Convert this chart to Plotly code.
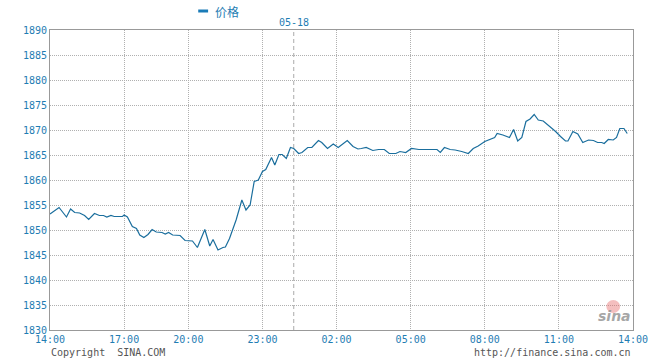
import plotly.graph_objects as go

# x: session slot (time-axis units), y: price
slots = [0, 12, 22, 40, 50, 60, 72, 84, 94, 108, 120, 130, 138, 148, 156, 176, 180, 188,
         200, 210, 218, 228, 238, 248, 258, 272, 280, 288, 298, 316, 328, 346, 358, 376,
         388, 396, 408, 420, 426, 436, 452, 466, 476, 486, 496, 506, 516, 524, 538, 546,
         556, 564, 574, 584, 592, 604, 612, 626, 636, 652, 660, 674, 688, 700, 722, 736,
         748, 756, 768, 784, 798, 812, 824, 840, 850, 864, 878, 896, 940, 948, 958, 972,
         984, 1000, 1016, 1028, 1040, 1056, 1072, 1080, 1086, 1100, 1116, 1126, 1136,
         1146, 1156, 1166, 1176, 1186, 1198, 1212, 1228, 1240, 1252, 1258, 1270, 1282,
         1294, 1308, 1320, 1330, 1340, 1346, 1356, 1368, 1376, 1384, 1394, 1402]
prices = [1853.2, 1853.9, 1854.5, 1852.6, 1854.2, 1853.5, 1853.4, 1852.9, 1852.1, 1853.3,
          1852.9, 1852.9, 1852.6, 1852.9, 1852.7, 1852.7, 1853.0, 1852.6, 1850.7, 1850.3,
          1849.0, 1848.5, 1849.1, 1850.1, 1849.6, 1849.5, 1849.2, 1849.5, 1849.0, 1848.9,
          1847.9, 1847.8, 1846.5, 1850.1, 1846.8, 1848.1, 1846.0, 1846.5, 1846.6, 1848.3,
          1852.0, 1856.0, 1854.0, 1855.0, 1859.7, 1860.0, 1861.7, 1862.1, 1864.5, 1863.0,
          1865.1, 1865.1, 1864.3, 1866.5, 1866.3, 1865.3, 1865.5, 1866.5, 1866.5, 1867.9,
          1867.5, 1866.3, 1867.2, 1866.5, 1867.9, 1866.7, 1866.2, 1866.3, 1866.5, 1865.9,
          1866.1, 1866.1, 1865.3, 1865.3, 1865.7, 1865.5, 1866.3, 1866.1, 1866.1, 1865.5,
          1866.5, 1866.1, 1866.0, 1865.7, 1865.3, 1866.3, 1866.8, 1867.7, 1868.2, 1868.5,
          1869.3, 1869.0, 1868.5, 1870.1, 1867.8, 1868.5, 1871.7, 1872.2, 1873.1, 1872.0,
          1871.8, 1870.9, 1869.7, 1868.7, 1867.8, 1867.8, 1869.7, 1869.2, 1867.5, 1868.0,
          1867.9, 1867.5, 1867.5, 1867.3, 1868.1, 1868.0, 1868.5, 1870.3, 1870.3, 1869.3]

tick_slots = [0, 180, 336, 516, 696, 876, 1056, 1236, 1416]
tick_labels = ["14:00", "17:00", "20:00", "23:00", "02:00", "05:00", "08:00", "11:00", "14:00"]
y_ticks = [1830, 1835, 1840, 1845, 1850, 1855, 1860, 1865, 1870, 1875, 1880, 1885, 1890]
day_slot = 592
day_label = "05-18"
series_name = "价格"

LABEL = "#1f7db3"
LINE = "#1a6e9d"
GRID = "#b0b0b0"
MONO = "DejaVu Sans Mono"

fig = go.Figure()
fig.add_trace(go.Scatter(x=slots, y=prices, mode="lines", name=series_name,
                         line=dict(color=LINE, width=1.2), showlegend=False, hoverinfo="skip"))

shapes = [
    # day separator
    dict(type="line", xref="x", yref="paper", x0=day_slot, x1=day_slot, y0=0, y1=1,
         layer="below", line=dict(color="#aaaaaa", width=1, dash="4px,3px")),
    # legend swatch
    dict(type="line", xref="paper", yref="paper",
         x0=(200 - 50) / 590, x1=(210 - 50) / 590,
         y0=1 + 19 / 300, y1=1 + 19 / 300,
         line=dict(color="#1a7bb7", width=3, dash="solid")),
    # watermark eye
    dict(type="circle", xref="paper", yref="paper",
         x0=(613 - 50) / 590, x1=(627 - 50) / 590,
         y0=(330 - 313) / 300, y1=(330 - 300) / 300,
         line=dict(width=0), fillcolor="rgba(230,110,110,0.45)"),
]

fig.update_layout(
    width=660, height=360,
    margin=dict(l=50, r=20, t=30, b=30),
    paper_bgcolor="white", plot_bgcolor="white",
    xaxis=dict(range=[0, 1416], tickvals=tick_slots, ticktext=tick_labels,
               showgrid=True, gridcolor=GRID, griddash="1px,1px", gridwidth=1,
               showline=True, linecolor="#999999", linewidth=1, mirror=True,
               ticks="", zeroline=False,
               tickfont=dict(family=MONO, size=10, color=LABEL)),
    yaxis=dict(range=[1830, 1890], tickvals=y_ticks,
               showgrid=True, gridcolor=GRID, griddash="1px,1px", gridwidth=1,
               showline=True, linecolor="#999999", linewidth=1, mirror=True,
               ticks="", zeroline=False,
               tickfont=dict(family=MONO, size=10, color=LABEL)),
    shapes=shapes,
    annotations=[
        dict(text=series_name, xref="paper", yref="paper", x=(215 - 50) / 590, y=1 + 18 / 300,
             xanchor="left", yanchor="middle", showarrow=False,
             font=dict(family="Noto Sans CJK SC", size=12, color=LABEL)),
        dict(text=day_label, xref="x", yref="paper", x=day_slot, y=1 + 8 / 300,
             xanchor="center", yanchor="middle", showarrow=False,
             font=dict(family=MONO, size=10, color=LABEL)),
        dict(text="Copyright  SINA.COM", xref="paper", yref="paper", x=-1 / 590, y=-22 / 300,
             xanchor="left", yanchor="middle", showarrow=False,
             font=dict(family=MONO, size=10, color="#555555")),
        dict(text="http://finance.sina.com.cn", xref="paper", yref="paper", x=1, y=-22 / 300,
             xanchor="right", yanchor="middle", showarrow=False,
             font=dict(family=MONO, size=10, color="#555555")),
        dict(text="<b><i>sina</i></b>", xref="paper", yref="paper", x=1, y=14 / 300,
             xanchor="right", yanchor="middle", showarrow=False,
             font=dict(family="DejaVu Sans", size=14, color="rgba(150,150,150,0.85)")),
    ],
)

fig.write_html("out.html")
